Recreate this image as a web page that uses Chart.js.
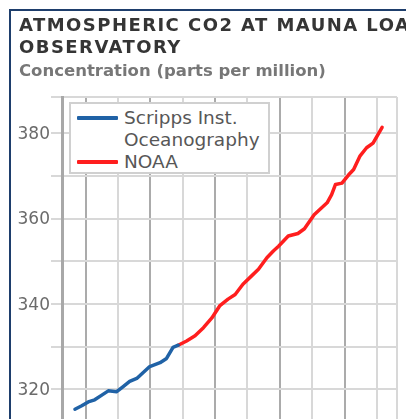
<!DOCTYPE html>
<html>
<head>
<meta charset="utf-8">
<title>Atmospheric CO2 at Mauna Loa Observatory</title>
<script src="https://cdn.jsdelivr.net/npm/chart.js@4.4.1/dist/chart.umd.min.js"></script>
<style>
  html, body {
    margin: 0;
    padding: 0;
    width: 406px;
    height: 419px;
    overflow: hidden;
    background: #fff;
    font-family: "DejaVu Sans", Verdana, sans-serif;
  }
  .frame {
    position: absolute;
    left: 9px;
    top: 9px;
    width: 600px;
    height: 600px;
    border-left: 2px solid #1e3e6c;
    border-top: 2px solid #1e3e6c;
  }
  .title {
    position: absolute;
    left: 19px;
    top: 14px;
    font-weight: bold;
    font-size: 18px;
    line-height: 22px;
    letter-spacing: 1.45px;
    color: #353535;
    white-space: nowrap;
  }
  .subtitle {
    position: absolute;
    left: 19px;
    top: 61px;
    font-weight: bold;
    font-size: 16.5px;
    line-height: 20px;
    color: #777;
    white-space: nowrap;
  }
  #co2Chart {
    position: absolute;
    left: 0;
    top: 0;
  }
  .legend {
    position: absolute;
    left: 69px;
    top: 102px;
    width: 201px;
    height: 72px;
    box-sizing: border-box;
    border: 2px solid #d0d0d0;
    background: #fff;
    padding-top: 3px;
    font-size: 18.5px;
    line-height: 22px;
    color: #575757;
  }
  .legend .item {
    display: flex;
    align-items: flex-start;
  }
  .legend .swatch {
    flex: none;
    width: 41px;
    height: 4px;
    margin: 9px 6px 0 6px;
    border-radius: 1px;
  }
  .legend .label {
    width: 140px;
  }
</style>
</head>
<body>
<div class="frame"></div>
<canvas id="co2Chart" width="406" height="443"></canvas>
<div class="title">ATMOSPHERIC CO2 AT MAUNA LOA<br>OBSERVATORY</div>
<div class="subtitle">Concentration (parts per million)</div>
<div class="legend" id="legend"></div>
<script>
// Scripps record
const scrippsYears = [1958.35, 1959.4, 1960.4, 1961.4, 1962.5, 1963.5, 1964.8, 1965.8,
  1966.8, 1967.9, 1968.9, 1969.9, 1971.5, 1972.5, 1973.5, 1974.3];
const scrippsPpm = [315.3, 316.1, 317.0, 317.5, 318.6, 319.6, 319.4, 320.6,
  321.8, 322.5, 323.9, 325.3, 326.2, 327.2, 329.8, 330.3];

// NOAA record
const noaaYears = [1974.3, 1975.6, 1976.9, 1978.2, 1979.5, 1980.7, 1982.0, 1983.1,
  1984.3, 1985.6, 1986.7, 1988.0, 1989.0, 1989.8, 1991.3, 1992.8, 1993.8, 1995.3,
  1997.3, 1998.0, 1998.6, 1999.6, 2000.6, 2001.4, 2002.4, 2003.4, 2004.4, 2005.8];
const noaaPpm = [330.3, 331.3, 332.5, 334.4, 336.7, 339.5, 341.1, 342.2,
  344.6, 346.5, 348.1, 350.8, 352.4, 353.5, 355.9, 356.5, 357.6, 360.9,
  363.7, 365.6, 368.0, 368.3, 370.2, 371.5, 374.7, 376.6, 377.7, 381.4];

const seriesLabels = ["Scripps Inst. Oceanography", "NOAA"];

// axis ticks
const yearGrid = [1960, 1965, 1970, 1975, 1980, 1985, 1990, 1995, 2000, 2005];
const ppmGrid = [310, 320, 330, 340, 350, 360, 370, 380];
const ppmLabels = [320, 340, 360, 380];

const toPoints = (xs, ys) => xs.map((x, i) => ({ x: x, y: ys[i] }));

const ctx = document.getElementById("co2Chart").getContext("2d");
const chart = new Chart(ctx, {
  type: "line",
  data: {
    datasets: [
      {
        label: seriesLabels[0],
        data: toPoints(scrippsYears, scrippsPpm),
        borderColor: "#2062a6",
      },
      {
        label: seriesLabels[1],
        data: toPoints(noaaYears, noaaPpm),
        borderColor: "#ff1e1e",
      },
    ],
  },
  options: {
    responsive: false,
    animation: false,
    layout: { padding: { top: 97, left: 0, right: 9, bottom: 0 } },
    plugins: {
      legend: { display: false },
      tooltip: { enabled: false },
    },
    elements: {
      point: { radius: 0 },
      line: { borderWidth: 3.5, tension: 0, borderCapStyle: "round", borderJoinStyle: "round" },
    },
    scales: {
      x: {
        type: "linear",
        min: 1956.35,
        max: 2008.1,
        afterBuildTicks: (scale) => {
          scale.ticks = yearGrid.map((v) => ({ value: v })).concat([{ value: scale.max }]);
        },
        ticks: { display: false },
        grid: {
          drawTicks: false,
          lineWidth: 2,
          color: (c) => (c.tick && c.tick.value % 10 === 0 ? "#ababab" : "#d8d8d8"),
        },
        border: { display: false },
      },
      y: {
        min: 310,
        max: 388.5,
        afterBuildTicks: (scale) => {
          scale.ticks = ppmGrid.map((v) => ({ value: v })).concat([{ value: scale.max }]);
        },
        afterFit: (scale) => {
          scale.width = 62;
        },
        ticks: {
          padding: 1,
          labelOffset: 1.5,
          color: "#6b6b6b",
          font: { family: "DejaVu Sans", size: 17 },
          callback: (value) => (ppmLabels.includes(value) ? value : ""),
        },
        grid: { color: "#d8d8d8", lineWidth: 2, tickLength: 11 },
        border: { display: true, color: "#a8a8a8", width: 3 },
      },
    },
  },
});

// legend drawn inside the plot, built from the datasets
const legendBox = document.getElementById("legend");
chart.data.datasets.forEach((ds) => {
  const item = document.createElement("div");
  item.className = "item";
  item.innerHTML = `<span class="swatch" style="background:${ds.borderColor}"></span><span class="label">${ds.label}</span>`;
  legendBox.appendChild(item);
});
</script>
</body>
</html>
